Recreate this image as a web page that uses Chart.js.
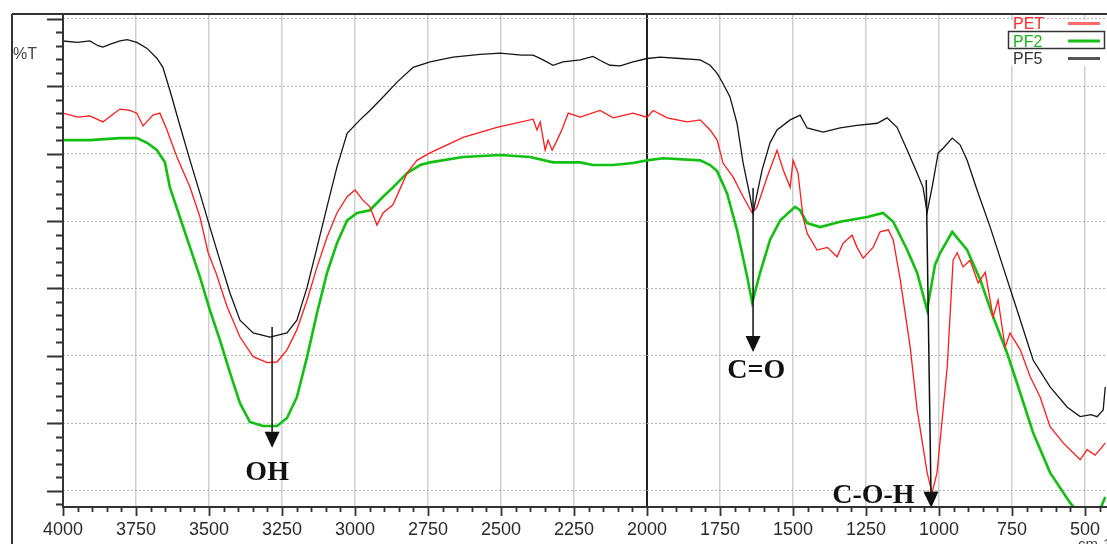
<!DOCTYPE html>
<html>
<head>
<meta charset="utf-8">
<script src="https://cdn.jsdelivr.net/npm/chart.js@4.4.0/dist/chart.umd.min.js"></script>
<style>
  html, body { margin: 0; padding: 0; background: #fff; }
</style>
</head>
<body>
<canvas id="ftir" width="1107" height="544"></canvas>
<script>
// wavenumber (cm-1) and transmittance
const pf5Wave = [
  4000, 3950, 3908, 3880, 3863, 3840, 3805, 3780, 3747, 3712,
  3678, 3658, 3634, 3600, 3565, 3531, 3497, 3463, 3428, 3394,
  3349, 3291, 3233, 3199, 3164, 3130, 3096, 3062, 3027, 2983,
  2949, 2904, 2856, 2801, 2743, 2664, 2572, 2503, 2430, 2390,
  2356, 2322, 2288, 2229, 2185, 2160, 2127, 2092, 2048, 2000,
  1955, 1887, 1818, 1784, 1760, 1740, 1716, 1692, 1671, 1647,
  1637, 1623, 1606, 1579, 1555, 1510, 1476, 1452, 1397, 1339,
  1281, 1212, 1178, 1144, 1109, 1075, 1055, 1041, 1024, 1003,
  986, 955, 928, 904, 870, 825, 781, 733, 678, 620,
  561, 517, 480, 459, 438, 431,
];
const pf5T = [
  66.7, 66.5, 66.7, 66.0, 65.8, 66.2, 66.7, 66.9, 66.5, 65.6,
  64.1, 62.8, 59.4, 54.2, 49.0, 44.1, 39.1, 34.2, 29.3, 25.3,
  23.4, 22.8, 23.4, 25.3, 30.2, 36.1, 42.1, 48.0, 53.0, 55.0,
  56.4, 58.4, 60.6, 62.8, 63.6, 64.3, 64.7, 64.9, 64.6, 64.6,
  63.9, 63.1, 63.6, 63.9, 64.4, 63.8, 63.1, 63.0, 63.6, 64.1,
  64.3, 64.1, 63.9, 63.1, 61.9, 60.4, 58.4, 54.5, 48.6, 43.6,
  41.2, 44.1, 47.6, 51.6, 53.5, 55.0, 55.7, 53.8, 53.2, 53.8,
  54.2, 54.5, 55.3, 53.9, 50.5, 47.1, 45.0, 41.3, 45.0, 50.1,
  50.8, 52.3, 51.3, 49.0, 44.6, 39.1, 33.2, 26.8, 19.4, 15.4,
  12.4, 11.0, 11.3, 11.0, 12.0, 15.4,
];

const petWave = [
  4000, 3950, 3908, 3863, 3830, 3805, 3771, 3747, 3726, 3692,
  3668, 3644, 3610, 3565, 3531, 3503, 3476, 3438, 3394, 3349,
  3301, 3267, 3233, 3199, 3164, 3130, 3096, 3062, 3027, 3000,
  2973, 2949, 2925, 2904, 2870, 2822, 2788, 2743, 2630, 2514,
  2390, 2377, 2366, 2349, 2339, 2325, 2308, 2288, 2270, 2229,
  2161, 2116, 2048, 2000, 1979, 1931, 1863, 1818, 1784, 1760,
  1740, 1705, 1671, 1640, 1623, 1589, 1555, 1534, 1510, 1500,
  1483, 1466, 1452, 1418, 1383, 1349, 1329, 1298, 1281, 1260,
  1226, 1202, 1174, 1157, 1133, 1099, 1075, 1041, 1024, 1007,
  972, 952, 938, 918, 894, 866, 842, 815, 798, 774,
  757, 722, 688, 654, 620, 575, 517, 493, 466, 449,
  431,
];
const petT = [
  56.0, 55.4, 55.6, 54.7, 55.8, 56.6, 56.4, 56.0, 54.1, 55.7,
  56.0, 53.5, 49.5, 45.0, 40.6, 35.3, 32.3, 27.3, 22.8, 19.9,
  19.0, 19.1, 20.9, 23.9, 28.3, 33.2, 37.6, 41.2, 43.6, 44.6,
  43.1, 42.1, 39.4, 41.2, 42.4, 47.1, 49.0, 50.1, 52.4, 53.9,
  55.1, 53.5, 54.7, 50.5, 52.0, 50.5, 52.0, 53.9, 56.0, 55.4,
  56.4, 55.3, 56.0, 55.4, 56.4, 55.3, 54.7, 55.0, 53.5, 52.0,
  48.6, 46.5, 43.6, 41.2, 42.1, 46.5, 50.5, 47.6, 45.0, 49.0,
  47.1, 40.6, 38.2, 35.7, 36.1, 34.7, 36.7, 37.9, 36.1, 34.5,
  36.1, 38.4, 38.7, 37.2, 31.3, 21.3, 12.0, 2.7, -0.3, 2.7,
  18.4, 34.2, 35.3, 33.2, 34.2, 30.8, 32.4, 25.8, 28.3, 21.3,
  23.4, 20.9, 16.9, 13.9, 9.5, 7.1, 4.6, 6.1, 5.3, 6.1,
  7.1,
];

const pf2Wave = [
  4000, 3908, 3805, 3747, 3712, 3678, 3651, 3634, 3600, 3565,
  3531, 3497, 3463, 3428, 3394, 3360, 3315, 3267, 3233, 3199,
  3164, 3130, 3096, 3062, 3027, 2993, 2949, 2904, 2870, 2822,
  2777, 2743, 2630, 2503, 2401, 2322, 2229, 2185, 2116, 2048,
  2000, 1945, 1818, 1784, 1760, 1726, 1692, 1657, 1640, 1613,
  1579, 1544, 1493, 1476, 1452, 1407, 1339, 1246, 1192, 1157,
  1109, 1075, 1041, 1014, 996, 955, 904, 859, 815, 767,
  722, 678, 620, 551, 500, 449, 431,
];
const pf2T = [
  52.0, 52.0, 52.3, 52.3, 51.6, 50.5, 48.7, 45.0, 40.6, 36.1,
  31.7, 26.8, 22.4, 17.5, 13.0, 10.2, 9.6, 9.6, 10.8, 13.9,
  19.9, 26.4, 32.3, 36.7, 40.1, 41.2, 41.6, 43.6, 45.0, 47.1,
  48.3, 48.7, 49.5, 49.8, 49.5, 48.7, 48.7, 48.3, 48.3, 48.6,
  49.0, 49.3, 49.0, 48.3, 47.4, 44.1, 38.7, 31.7, 27.9, 32.3,
  37.2, 40.1, 42.1, 41.6, 39.7, 39.1, 39.9, 40.6, 41.2, 39.9,
  35.7, 32.3, 26.8, 33.5, 35.3, 38.4, 35.7, 31.3, 25.8, 20.4,
  14.5, 8.6, 2.7, -1.8, -4.3, -2.8, -0.9,
];

const xTicks = [4000, 3750, 3500, 3250, 3000, 2750, 2500, 2250, 2000, 1750, 1500, 1250, 1000, 750, 500];
const yTicks = [0, 10, 20, 30, 40, 50, 60, 70];

// band labels: arrow start, arrow tip, text anchor (wavenumber, %T)
const bandNotes = [
  { label: "OH", from: [3284, 24.3], to: [3284, 6.4], at: [3301, 1.6] },
  { label: "C=O", from: [1637, 44.9], to: [1637, 20.6], at: [1626, 16.7] },
  { label: "C-O-H", from: [1044, 46.1], to: [1027, -2.5], at: [1225, -1.8] },
];

const legendItems = [
  { name: "PET", text: "#ff2b2b", line: "#ff6a6a" },
  { name: "PF2", text: "#19b819", line: "#19c019" },
  { name: "PF5", text: "#333333", line: "#555555" },
];

function toPoints(wave, vals) {
  return wave.map((w, i) => ({ x: w, y: vals[i] }));
}

const axisFrame = {
  id: "axisFrame",
  afterDraw(chart) {
    const { ctx, chartArea: ca, scales } = chart;
    ctx.save();
    ctx.strokeStyle = "#333";
    ctx.lineWidth = 2;
    ctx.beginPath();
    ctx.moveTo(12, ca.top);
    ctx.lineTo(chart.width, ca.top);
    ctx.moveTo(12, ca.top);
    ctx.lineTo(12, chart.height);
    ctx.moveTo(ca.left, ca.top);
    ctx.lineTo(ca.left, ca.bottom);
    ctx.lineTo(ca.right, ca.bottom);
    ctx.stroke();

    ctx.lineWidth = 1.8;
    ctx.beginPath();
    for (let v = -2; v <= 70; v += 2) {
      const py = Math.round(scales.y.getPixelForValue(v)) + 0.5;
      const len = v % 10 === 0 ? 16 : 7;
      ctx.moveTo(ca.left - len, py);
      ctx.lineTo(ca.left, py);
    }
    for (let w = 4000; w >= 450; w -= 50) {
      const px = Math.round(scales.x.getPixelForValue(w)) + 0.5;
      const len = w % 250 === 0 ? 9 : 5;
      ctx.moveTo(px, ca.bottom);
      ctx.lineTo(px, ca.bottom + len);
    }
    ctx.stroke();

    // %T label and cut-off unit label
    ctx.fillStyle = "#444";
    ctx.font = '16px "Liberation Sans", Arial, sans-serif';
    ctx.textAlign = "left";
    ctx.textBaseline = "alphabetic";
    ctx.fillText("%T", 13, 59);
    ctx.font = '15px "Liberation Sans", Arial, sans-serif';
    ctx.fillText("cm-1", 1078, 549);

    // legend
    ctx.fillStyle = "#fff";
    ctx.fillRect(1005, 20, chart.width - 1005, 46);
    ctx.font = '16px "Liberation Sans", Arial, sans-serif';
    legendItems.forEach((item, i) => {
      const base = 29 + i * 17.5;
      ctx.fillStyle = item.text;
      ctx.fillText(item.name, 1013, base);
      ctx.strokeStyle = item.line;
      ctx.lineWidth = 3;
      ctx.beginPath();
      ctx.moveTo(1068, base - 5.5);
      ctx.lineTo(1100, base - 5.5);
      ctx.stroke();
    });
    ctx.strokeStyle = "#333";
    ctx.lineWidth = 1.5;
    ctx.strokeRect(1008.5, 31.5, 96, 17);
    ctx.restore();
  },
};

const bandArrows = {
  id: "bandArrows",
  afterDatasetsDraw(chart) {
    const { ctx, scales } = chart;
    ctx.save();
    ctx.strokeStyle = "#111";
    ctx.fillStyle = "#111";
    ctx.lineWidth = 1.5;
    bandNotes.forEach((n) => {
      const x1 = scales.x.getPixelForValue(n.from[0]);
      const y1 = scales.y.getPixelForValue(n.from[1]);
      const x2 = scales.x.getPixelForValue(n.to[0]);
      const y2 = scales.y.getPixelForValue(n.to[1]);
      const len = Math.hypot(x2 - x1, y2 - y1);
      const ux = (x2 - x1) / len;
      const uy = (y2 - y1) / len;
      const bx = x2 - ux * 16;
      const by = y2 - uy * 16;
      ctx.beginPath();
      ctx.moveTo(x1, y1);
      ctx.lineTo(bx, by);
      ctx.stroke();
      ctx.beginPath();
      ctx.moveTo(x2, y2);
      ctx.lineTo(bx - uy * 7.5, by + ux * 7.5);
      ctx.lineTo(bx + uy * 7.5, by - ux * 7.5);
      ctx.closePath();
      ctx.fill();

      ctx.font = 'bold 28px "Liberation Serif", "Times New Roman", serif';
      ctx.textAlign = "center";
      ctx.textBaseline = "alphabetic";
      ctx.fillText(
        n.label,
        scales.x.getPixelForValue(n.at[0]),
        scales.y.getPixelForValue(n.at[1])
      );
    });
    ctx.restore();
  },
};

new Chart(document.getElementById("ftir"), {
  type: "line",
  data: {
    datasets: [
      {
        label: "PF5",
        data: toPoints(pf5Wave, pf5T),
        borderColor: "#151515",
        borderWidth: 1.3,
        pointRadius: 0,
      },
      {
        label: "PET",
        data: toPoints(petWave, petT),
        borderColor: "#ff1a1a",
        borderWidth: 1.3,
        pointRadius: 0,
      },
      {
        label: "PF2",
        data: toPoints(pf2Wave, pf2T),
        borderColor: "#11c011",
        borderWidth: 2.6,
        pointRadius: 0,
      },
    ],
  },
  options: {
    responsive: false,
    animation: false,
    devicePixelRatio: 1,
    layout: { padding: { left: 63, top: 14, right: 0, bottom: 0 } },
    plugins: {
      legend: { display: false },
      tooltip: { enabled: false },
    },
    scales: {
      x: {
        type: "linear",
        reverse: true,
        min: 425,
        max: 4000,
        afterBuildTicks: (s) => {
          s.ticks = xTicks.map((v) => ({ value: v }));
        },
        afterFit: (s) => {
          s.height = 37;
          s.paddingLeft = 0;
          s.paddingRight = 0;
        },
        ticks: {
          autoSkip: false,
          maxRotation: 0,
          padding: 12,
          color: "#2a2a2a",
          font: { family: '"Liberation Sans", Arial, sans-serif', size: 18 },
          callback: (v) => String(v),
        },
        grid: {
          drawTicks: false,
          color: (c) => (c.tick && c.tick.value === 2000 ? "#222" : "#cfcfcf"),
          lineWidth: (c) => (c.tick && c.tick.value === 2000 ? 2 : 1.5),
        },
        border: { display: false },
      },
      y: {
        min: -2.4,
        max: 70.7,
        afterBuildTicks: (s) => {
          s.ticks = yTicks.map((v) => ({ value: v }));
        },
        afterFit: (s) => {
          s.width = 0;
        },
        ticks: { display: false },
        grid: { drawTicks: false, color: "#b5b5b5", lineWidth: 1 },
        border: { display: false, dash: [2, 2] },
      },
    },
  },
  plugins: [axisFrame, bandArrows],
});
</script>
</body>
</html>
